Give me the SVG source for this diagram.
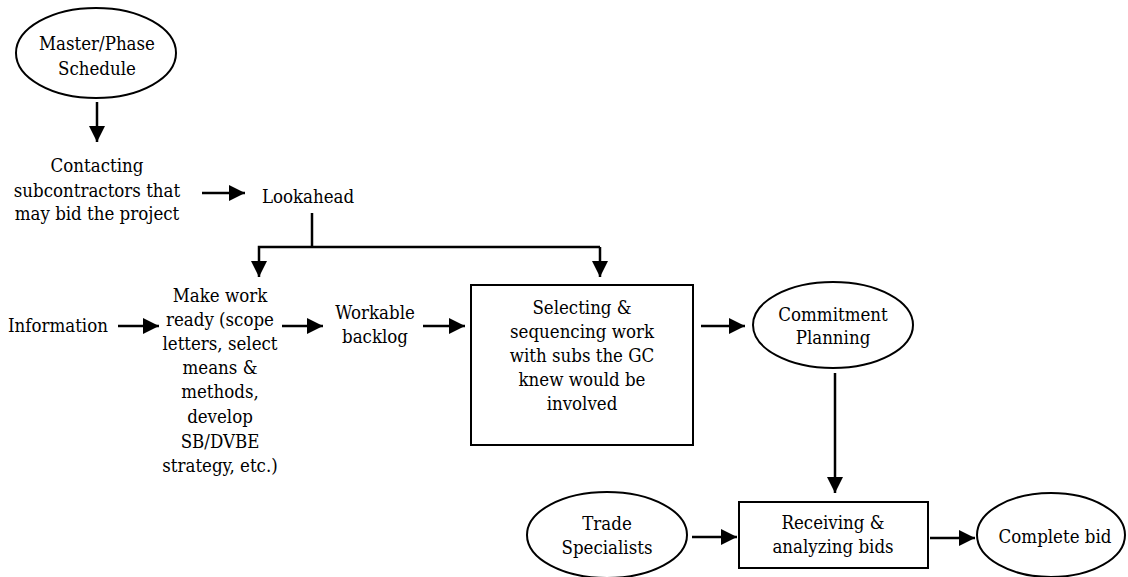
<svg xmlns="http://www.w3.org/2000/svg" width="1128" height="577" viewBox="0 0 1128 577">
<defs>
<marker id="ah" markerUnits="userSpaceOnUse" markerWidth="17" markerHeight="17" refX="16" refY="8" orient="auto"><path d="M0,0 L16,8 L0,16 z" fill="#000"/></marker>
</defs>
<style>
text{font-family:'DejaVu Serif Condensed','DejaVu Serif',serif;font-stretch:condensed;font-size:18.5px;fill:#000;text-anchor:middle}
.n{fill:#fff;stroke:#000;stroke-width:2}
.c{stroke:#000;stroke-width:2.5;fill:none}
.a{stroke:#000;stroke-width:2.5;fill:none;marker-end:url(#ah)}
</style>
<rect width="1128" height="577" fill="#fff"/>
<g id="connectors">
<line class="a" x1="97" y1="102" x2="97" y2="142"/>
<line class="a" x1="202" y1="193" x2="245" y2="193"/>
<polyline class="c" points="312,213 312,247"/>
<polyline class="a" points="600,247 259,247 259,277"/>
<line class="a" x1="600" y1="247" x2="600" y2="277"/>
<line class="a" x1="118" y1="326" x2="159" y2="326"/>
<line class="a" x1="282" y1="326" x2="323" y2="326"/>
<line class="a" x1="423" y1="326" x2="465" y2="326"/>
<line class="a" x1="701" y1="326" x2="745" y2="326"/>
<line class="a" x1="835" y1="373" x2="835" y2="493"/>
<line class="a" x1="692" y1="537" x2="737" y2="537"/>
<line class="a" x1="930" y1="538" x2="975" y2="538"/>
</g>
<g id="master">
<ellipse class="n" cx="96" cy="53" rx="80" ry="45"/>
<text x="97" y="50">Master/Phase</text>
<text x="97" y="75">Schedule</text>
</g>
<g id="contacting">
<text x="97" y="172">Contacting</text>
<text x="97" y="197">subcontractors that</text>
<text x="97" y="220">may bid the project</text>
</g>
<g id="lookahead">
<text x="308" y="203">Lookahead</text>
</g>
<g id="information">
<text x="58" y="332">Information</text>
</g>
<g id="makework">
<text x="220" y="302">Make work</text>
<text x="220" y="326">ready (scope</text>
<text x="220" y="350">letters, select</text>
<text x="220" y="374">means &amp;</text>
<text x="220" y="398">methods,</text>
<text x="220" y="423">develop</text>
<text x="220" y="448">SB/DVBE</text>
<text x="220" y="472">strategy, etc.)</text>
</g>
<g id="workable">
<text x="375" y="319">Workable</text>
<text x="375" y="343">backlog</text>
</g>
<g id="selecting">
<rect class="n" x="471" y="285" width="222" height="160"/>
<text x="582" y="314">Selecting &amp;</text>
<text x="582" y="338">sequencing work</text>
<text x="582" y="362">with subs the GC</text>
<text x="582" y="386">knew would be</text>
<text x="582" y="410">involved</text>
</g>
<g id="commitment">
<ellipse class="n" cx="833" cy="325" rx="80" ry="43"/>
<text x="833" y="321">Commitment</text>
<text x="833" y="344">Planning</text>
</g>
<g id="trade">
<ellipse class="n" cx="607" cy="535" rx="80" ry="43"/>
<text x="607" y="530">Trade</text>
<text x="607" y="554">Specialists</text>
</g>
<g id="receiving">
<rect class="n" x="739" y="502" width="189" height="66"/>
<text x="833" y="529">Receiving &amp;</text>
<text x="833" y="553">analyzing bids</text>
</g>
<g id="complete">
<ellipse class="n" cx="1051" cy="535" rx="74" ry="42"/>
<text x="1055" y="543">Complete bid</text>
</g>
</svg>
